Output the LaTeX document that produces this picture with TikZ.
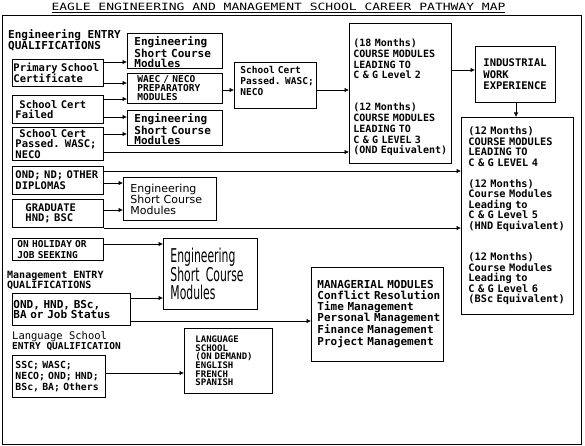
\documentclass[tikz,border=0pt]{standalone}
\usepackage{fontspec}
\usetikzlibrary{arrows.meta}
\newfontfamily\monof{DejaVu Sans Mono}
\newfontfamily\titlef{DejaVu Sans Mono}[FakeStretch=1.3]
\newfontfamily\sansf{DejaVu Sans}
\newfontfamily\tallf{DejaVu Sans}[FakeStretch=0.57]
\newcommand\myfs[2]{\fontsize{#1}{#2}\selectfont}
\newcommand\myrows[2]{\hspace*{#1pt}\vbox{\let\\\cr\halign{##\hfil\cr#2\crcr}}}
\tikzset{
  box/.style={draw, line width=0.9pt, anchor=north west, inner xsep=0pt, inner ysep=0pt,
    align=left, font=\monof\bfseries\myfs{10.5}{10.7}},
  lbl/.style={anchor=north west, inner sep=0pt, align=left},
  arr/.style={line width=0.7pt, -{Latex[length=4.5pt,width=4.5pt]}},
}
\begin{document}
\begin{tikzpicture}[x=1pt,y=-1pt]
\useasboundingbox (0,0) rectangle (585,446);
\draw[line width=0.9pt] (2,15) rectangle (581,444);

% title
\node[font=\titlef\myfs{10}{12}, anchor=base, inner sep=0pt] (title) at (278.5,11)
  {\underline{EAGLE ENGINEERING AND MANAGEMENT SCHOOL CAREER PATHWAY MAP}};

% labels
\node[lbl, font=\monof\bfseries\myfs{11}{11}] (lblEng) at (8,29)
  {\myrows{0}{Engineering ENTRY\\QUALIFICATIONS}};
\node[lbl, font=\monof\bfseries\myfs{10}{9.5}] (lblMgmt) at (7,271.5)
  {\myrows{0}{Management ENTRY\\QUALIFICATIONS}};
\node[lbl, font=\monof\myfs{10.5}{10}] (lblLang) at (12,331)
  {\myrows{0}{Language School\\{\bfseries\myfs{9.5}{10}ENTRY QUALIFICATION}}};

% left column
\node[box, text width=91pt, minimum height=27pt] (prim) at (12,59)
  {\myrows{1}{Primary School\\Certificate}};
\node[box, text width=91pt, minimum height=28pt] (fail) at (12,95)
  {\myrows{3}{\hspace*{4pt}School Cert\\Failed}};
\node[box, text width=91pt, minimum height=33pt] (scpL) at (12,127)
  {\myrows{3}{\hspace*{4pt}School Cert\\Passed. WASC;\\NECO}};
\node[box, text width=91pt, minimum height=28pt] (ond) at (12,166)
  {\myrows{3}{OND; ND; OTHER\\DIPLOMAS}};
\node[box, text width=91pt, minimum height=28pt] (grad) at (12,199)
  {\myrows{13}{GRADUATE\\HND; BSC}};
\node[box, text width=91pt, minimum height=22pt, font=\monof\bfseries\myfs{9.5}{10.5}] (hol) at (12,238)
  {\myrows{5}{ON HOLIDAY OR\\JOB SEEKING}};
\node[box, text width=118pt, minimum height=32pt, font=\monof\bfseries\myfs{11}{10.5}] (mgmt) at (12,293)
  {\myrows{1}{OND, HND, BSc,\\BA or Job Status}};
\node[box, text width=93pt, minimum height=42pt, font=\monof\bfseries\myfs{9.8}{11}] (ssc) at (12,355)
  {\myrows{3}{SSC; WASC;\\NECO; OND; HND;\\BSc, BA; Others}};

% middle column
\node[box, text width=95pt, minimum height=35pt, font=\monof\bfseries\myfs{11}{10.5}] (esc1) at (127,33)
  {\myrows{7}{\noalign{\vskip3pt}Engineering\\Short Course\\Modules}};
\node[box, text width=95pt, minimum height=30pt, font=\monof\bfseries\myfs{9.5}{9}] (waec) at (127,73)
  {\myrows{10}{WAEC / NECO\\PREPARATORY\\MODULES}};
\node[box, text width=95pt, minimum height=35pt, font=\monof\bfseries\myfs{11}{10.5}] (esc2) at (127,110)
  {\myrows{7}{\noalign{\vskip3pt}Engineering\\Short Course\\Modules}};
\node[box, text width=82pt, minimum height=46pt, font=\monof\bfseries\myfs{9.5}{11}] (scp2) at (234,62)
  {\myrows{6}{School Cert\\Passed. WASC;\\NECO\cr\noalign{\vskip8pt}}};
\node[box, text width=93pt, minimum height=43pt, font=\sansf\myfs{11}{11}] (esc3) at (123,177)
  {\myrows{7}{Engineering\\Short Course\\Modules}};
\node[box, text width=94pt, minimum height=71pt, font=\tallf\myfs{19}{18.5}] (esc4) at (163,238)
  {\myrows{7}{Engineering\\Short Course\\Modules}};
\node[box, text width=88pt, minimum height=65pt, font=\monof\bfseries\myfs{9}{8.6}] (lang) at (184,328)
  {\myrows{11}{LANGUAGE\\SCHOOL\\(ON DEMAND)\\ENGLISH\\FRENCH\\SPANISH}};
\node[box, text width=132pt, minimum height=94pt, font=\monof\bfseries\myfs{11}{10.8}] (mgr) at (311,267)
  {\myrows{6}{MANAGERIAL MODULES\\Conflict Resolution\\Time Management\\Personal Management\\Finance Management\\Project Management}};

% right column
\node[box, text width=102pt, minimum height=140pt, font=\monof\bfseries\myfs{10}{10.7}] (lvl23) at (349,23)
  {\myrows{4}{\noalign{\vskip8pt}(18 Months)\\COURSE MODULES\\LEADING TO\\C \& G Level 2\\ \\ \\(12 Months)\\COURSE MODULES\\LEADING TO\\C \& G LEVEL 3\\(OND Equivalent)}};
\node[box, text width=80pt, minimum height=56pt, font=\monof\bfseries\myfs{10.5}{11.5}] (ind) at (475,46)
  {\myrows{8}{INDUSTRIAL\\WORK\\EXPERIENCE}};
\node[box, text width=112pt, minimum height=197pt, font=\monof\bfseries\myfs{10.3}{10.5}] (lvl4) at (461,117)
  {\myrows{7}{(12 Months)\\COURSE MODULES\\LEADING TO\\C \& G LEVEL 4\\ \\(12 Months)\\Course Modules\\Leading to\\C \& G Level 5\\(HND Equivalent)\\ \\ \\(12 Months)\\Course Modules\\Leading to\\C \& G Level 6\\(BSc Equivalent)}};

% connectors
\draw[arr] (prim.east |- 0,62) -- (esc1.west |- 0,62);
\draw[arr] (prim.east |- 0,83) -- (waec.west |- 0,83);
\draw[arr] (fail.east |- 0,99) -- (waec.west |- 0,99);
\draw[arr] (fail.east |- 0,117) -- (esc2.west |- 0,117);
\draw[arr] (scpL.east |- 0,134) -- (esc2.west |- 0,134);
\draw[arr] (scpL.east |- 0,152) -- (lvl23.west |- 0,152);
\draw[arr] (waec.east |- 0,90) -- (scp2.west |- 0,90);
\draw[arr] (scp2.east |- 0,90) -- (lvl23.west |- 0,90);
\draw[arr] (lvl23.east |- 0,70) -- (ind.west |- 0,70);
\draw[arr] (ind.south -| 516,0) -- (lvl4.north -| 516,0);
\draw[arr] (ond.east |- 0,171) -- (lvl4.west |- 0,171);
\draw[arr] (ond.east |- 0,183) -- (esc3.west |- 0,183);
\draw[arr] (grad.east |- 0,210) -- (esc3.west |- 0,210);
\draw[arr] (grad.east |- 0,228) -- (lvl4.west |- 0,228);
\draw[arr] (hol.east |- 0,244) -- (esc4.west |- 0,244);
\draw[arr] (mgmt.east |- 0,298) -- (esc4.west |- 0,298);
\draw[arr] (mgmt.east |- 0,321) -- (mgr.west |- 0,321);
\draw[arr] (ssc.east |- 0,373) -- (lang.west |- 0,373);
\end{tikzpicture}
\end{document}
